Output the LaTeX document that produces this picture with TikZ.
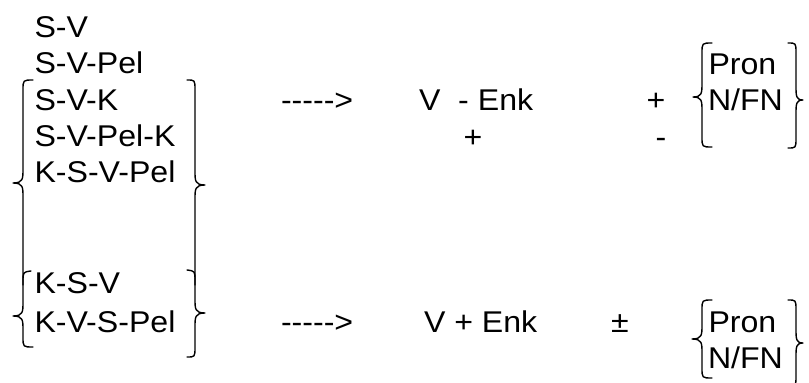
\documentclass[tikz,border=0pt]{standalone}
\usepackage{fontspec}
\setmainfont{Liberation Sans}[FakeStretch=1.07]
% #1 end x, #2 line x, #3 tip x, #4 top y, #5 tip y, #6 bottom y
\newcommand{\bracepath}[6]{\draw[brc] (#1,#4) .. controls (#2,#4) .. (#2,#4+10) -- (#2,#5-14) .. controls (#2,#5-4) and (#2,#5) .. (#3,#5) .. controls (#2,#5) and (#2,#5+4) .. (#2,#5+14) -- (#2,#6-10) .. controls (#2,#6) .. (#1,#6);}
\newcommand{\hy}{-\kern0pt}
\begin{document}
\begin{tikzpicture}[x=1pt,y=-1pt,
  txt/.style={anchor=base west,inner sep=0pt,outer sep=0pt,font=\fontsize{30}{32}\selectfont},
  brc/.style={line width=1.4pt,line cap=round,line join=round}]
\useasboundingbox (0,0) rectangle (809,383);
% left column
\node[txt] (sv)   at (34.5,37)    {S-V};
\node[txt] (svp)  at (34.5,73.5)  {S-V-Pel};
\node[txt] (svk)  at (34.5,110)   {S-V-K};
\node[txt] (svpk) at (34.5,146.5) {S-V-Pel-K};
\node[txt] (ksvp) at (34.5,182.5) {K-S-V-Pel};
\node[txt] (ksv)  at (34.5,293)   {K-S-V};
\node[txt] (kvsp) at (34.5,332)   {K-V-S-Pel};
% upper rule
\node[txt] (arra) at (281,110) {\hy\hy\hy\hy\hy>};
\node[txt] (vea)  at (419,110) {V\ \ - Enk};
\node[txt] (pla)  at (646.5,110) {+};
\node[txt] (plb)  at (463.5,147) {+};
\node[txt] (mib)  at (655.5,147) {-};
\node[txt] (pra)  at (708.5,74) {Pron};
\node[txt] (nfa)  at (708,110) {N/FN};
% lower rule
\node[txt] (arrb) at (281,332) {\hy\hy\hy\hy\hy>};
\node[txt] (veb)  at (424,332) {V + Enk};
\node[txt] (pm)   at (611,332) {±};
\node[txt] (prb)  at (708.5,332) {Pron};
\node[txt] (nfb)  at (708,368) {N/FN};
% braces of the left column
\draw[brc] (33,80) .. controls (23,80) .. (23,90) -- (23,169) .. controls (23,179) and (23,183) .. (13,183) .. controls (23,183) and (23,187) .. (23,197) -- (23,285);
\draw[brc] (31,271) .. controls (23,272) .. (23,282) -- (23,302) .. controls (23,312) and (23,316) .. (13,316) .. controls (23,316) and (23,320) .. (23,330) -- (23,337) .. controls (23,347) .. (33,347);
\draw[brc] (187,80) .. controls (195,80) .. (195,90) -- (195,171) .. controls (195,181) and (195,185) .. (205,185) .. controls (195,185) and (195,189) .. (195,199) -- (195,285);
\draw[brc] (187,270) .. controls (195,271) .. (195,281) -- (195,299) .. controls (195,309) and (195,313) .. (205,313) .. controls (195,313) and (195,317) .. (195,327) -- (195,347) .. controls (195,357) .. (187,357);
% braces of the right column
\bracepath{712}{702}{693}{43}{97}{147}
\bracepath{788}{796}{803}{43}{100}{148}
\bracepath{712}{702}{692}{300}{339}{378}
\bracepath{788}{796}{803}{300}{343}{386}
\end{tikzpicture}
\end{document}
